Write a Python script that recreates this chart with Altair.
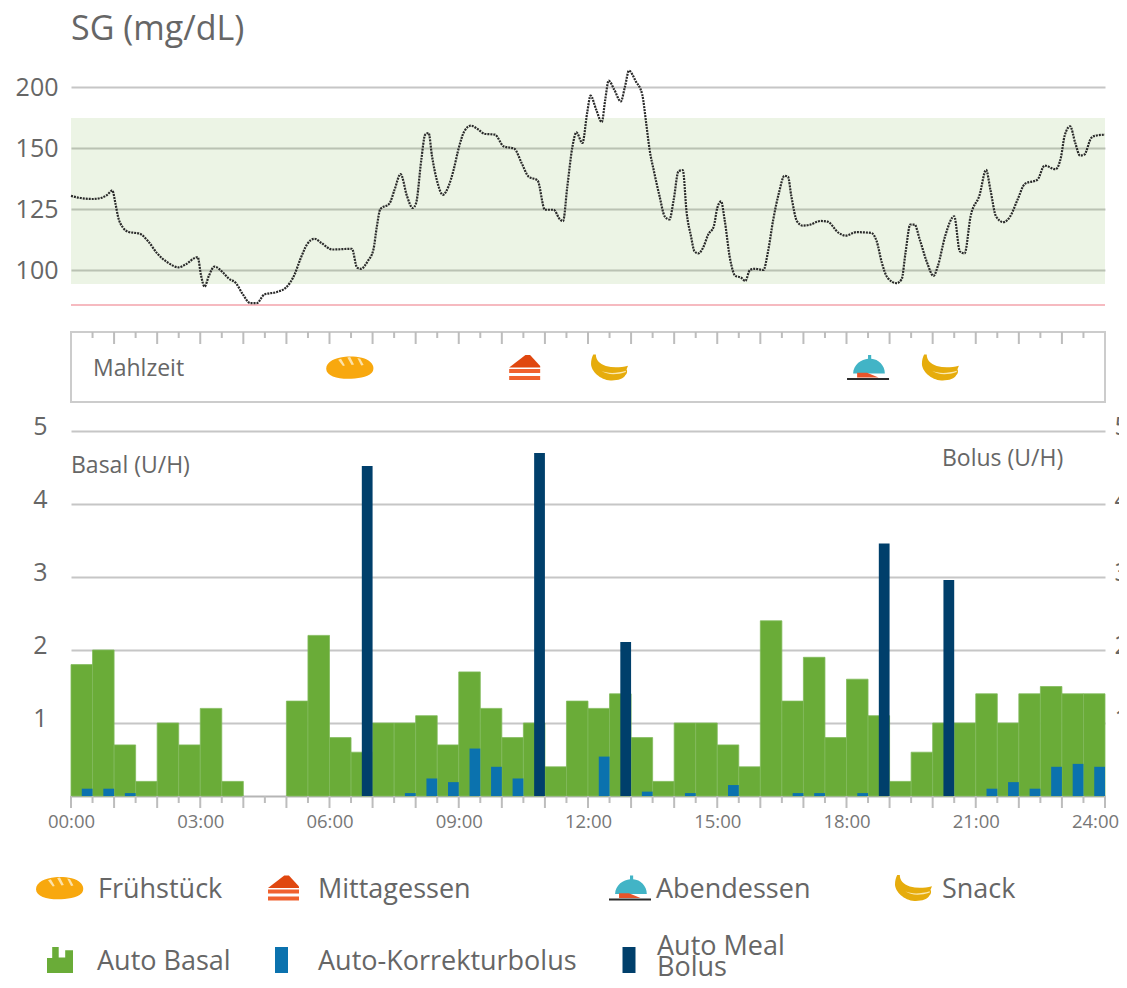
import altair as alt
import pandas as pd

FONT = "Open Sans"
TXT = "#666666"
GRID = "#c6c6c6"

# ---- Sensor glucose (hour, mg/dL)
sg_hours = [0,.22,.51,.71,.84,.96,1.03,1.09,1.21,1.34,1.59,1.79,2.0,2.25,2.5,2.66,2.94,3.02,3.1,3.2,3.33,3.53,3.66,3.82,3.99,4.16,4.31,4.49,4.78,4.99,5.19,5.32,5.48,5.65,5.81,6.06,6.52,6.64,6.73,6.89,7.02,7.1,7.18,7.39,7.51,7.65,7.8,7.93,8.01,8.13,8.22,8.3,8.38,8.51,8.63,8.76,8.88,9.0,9.13,9.28,9.46,9.59,9.84,10.04,10.29,10.46,10.62,10.83,11.0,11.2,
            11.35,11.42,11.52,11.64,11.73,11.87,11.98,12.06,12.19,12.32,12.4,12.48,12.61,12.76,12.86,12.95,13.11,13.26,13.35,13.43,13.53,13.66,13.78,13.89,13.99,14.1,14.2,14.29,14.39,14.47,14.56,14.67,14.79,14.92,15,15.09,15.17,15.3,15.42,15.55,15.65,15.76,15.88,16.07,16.18,16.3,16.43,16.56,16.64,16.72,16.85,16.98,17.14,17.4,17.56,17.82,17.98,18.23,18.57,18.7,18.82,18.95,19.16,19.28,19.37,19.48,19.58,19.7,19.87,20.02,20.12,20.29,20.5,20.63,20.74,20.88,21.09,21.24,21.34,21.47,21.64,21.8,21.97,22.14,22.43,22.6,22.85,22.98,23.06,23.19,23.31,23.42,23.52,23.68,23.78,24]
sg_values = [130.4,129.5,129.1,129.6,130.8,132.6,127.4,122,117.3,115.6,114.9,111.8,106.8,103,101.1,102.3,105.3,97.6,93.2,97.6,101.4,98.9,96.5,94.8,90,86.4,86.4,90,91,92.8,98.2,104.3,110.5,112.8,111.1,108.4,108.7,101,100.5,103.7,108.4,117.9,125,127.2,132.9,139.3,130.2,125.4,127.4,145.1,160.9,162.3,146.6,135.6,130.8,134.2,141,150,163.7,168.3,165,161.7,160.9,151.4,149.7,143.8,138.3,136.7,124.7,124.7,
             120.7,120,134.2,151.4,162.8,154.1,178.7,192.9,181.4,171.3,189.6,205.2,197.8,188.2,200.5,213.4,204.6,193.7,170.5,149.3,140.5,130.3,122,120.7,128.9,140.5,140.9,123.4,113.9,107.7,106.8,109.1,114.5,117.9,125.4,128.1,120.7,104.3,97.6,96.9,95.5,100,100.5,100,107.7,120.7,131.5,138.6,138.3,130.2,120,118.2,118.5,120.1,119.8,115.2,114.1,115.5,115.2,111.8,103,96.9,94.6,96.2,107.1,118.6,118.6,112.5,103,97.6,101.6,113.9,122,107.7,106.8,122,130.8,141,132.9,122,119.6,122,128.8,135.3,137,142.8,141.3,146.4,159.6,167.8,154.1,146.9,147.3,158.2,160.1,160.9]
sg_ticks = [100, 125, 150, 200]
target_low, target_high = 94.3, 174.6
low_limit = 85.7

# ---- Insulin
basal_values = [1.8,2.0,0.7,0.2,1.0,0.7,1.2,0.2,0,0,1.3,2.2,0.8,0.6,1.0,1.0,1.1,0.7,1.7,1.2,0.8,1.0,0.4,1.3,1.2,1.4,0.8,0.2,1.0,1.0,0.7,0.4,2.4,1.3,1.9,0.8,1.6,1.1,0.2,0.6,1.0,1.0,1.4,1.0,1.4,1.5,1.4,1.4]
corr_hours = [0.25,0.75,1.25,7.75,8.25,8.75,9.25,9.75,10.25,12.25,13.25,14.25,15.25,16.75,17.25,18.25,21.25,21.75,22.25,22.75,23.25,23.75]
corr_values = [0.1,0.1,0.04,0.04,0.24,0.19,0.65,0.4,0.24,0.54,0.06,0.04,0.15,0.04,0.04,0.04,0.1,0.19,0.1,0.4,0.44,0.4]
meal_bolus_hours = [6.75,10.75,12.75,18.75,20.25]
meal_bolus_values = [4.52,4.7,2.11,3.46,2.96]
insulin_ticks = [1,2,3,4,5]

# ---- Meals
bread_hours = [6.48]
cake_hours = [10.53]
banana_hours = [12.5, 20.18]
cloche_hours = [18.5]
hour_ticks = list(range(0, 25))
half_ticks = [h + 0.5 for h in range(0, 24)]
label_ticks = list(range(0, 25, 3))

# ---- Icon drawings, as (path, colour)
BREAD = ("M-1,0.05 C-1,-0.25 -0.6,-0.42 -0.2,-0.45 C0.2,-0.48 0.65,-0.42 0.85,-0.22 C1,-0.08 1,0.1 0.9,0.22 C0.7,0.42 0.3,0.47 -0.1,0.47 C-0.55,0.47 -1,0.35 -1,0.05 Z", "#f8a80e")
BREAD_CUT = ("M-0.5,-0.32 L-0.38,-0.36 L-0.22,-0.08 L-0.3,-0.06 Z M-0.12,-0.42 L0,-0.44 L0.16,-0.12 L0.06,-0.1 Z M0.3,-0.4 L0.42,-0.36 L0.56,-0.1 L0.46,-0.08 Z", "#fde2a8")
CAKE_TOP = ("M-1,0 L0.05,-0.8 L0.35,-0.8 L1,-0.1 L1,0 Z", "#e0470f")
CAKE_STR = ("M-1,0.1 H1 V0.35 H-1 Z M-1,0.55 H1 V0.8 H-1 Z", "#f0612e")
DOME = ("M-0.71,0.28 C-0.7,-0.15 -0.3,-0.4 0,-0.42 L0,-0.6 L0.15,-0.6 L0.15,-0.42 C0.5,-0.4 0.8,-0.1 0.8,0.28 Z", "#42b4c6")
PLATE = ("M-0.52,0.25 L-0.05,0.25 L0.5,0.48 L-0.52,0.48 Z", "#e8542a")
BAR = ("M-1,0.5 H1 V0.6 H-1 Z", "#2b2b2b")
BANANA = ("M-0.88,-0.7 L-0.74,-0.7 C-0.74,-0.4 -0.55,-0.2 -0.2,-0.08 C0.2,0.02 0.6,0 1,-0.1 L0.92,0.1 C0.98,0.2 0.95,0.35 0.85,0.42 C0.8,0.6 0.4,0.72 0.05,0.7 C-0.5,0.68 -1,0.2 -1,-0.2 C-1,-0.4 -0.95,-0.55 -0.88,-0.7 Z", "#e6ac0c")
BANANA_GAP = ("M-0.45,0.18 C-0.1,0.34 0.4,0.32 0.88,0.18 L0.88,0.24 C0.4,0.4 -0.1,0.42 -0.45,0.18 Z", "#fbe9b0")
GREEN = ("M-1,1 V-0.15 H-0.6 V-1 H-0.1 V-0.2 H0.4 V-0.75 H1 V1 Z", "#6aac38")
BLUE = ("M-0.5,-1 H0.5 V1 H-0.5 Z", "#0b72ae")
NAVY = ("M-0.5,-1 H0.5 V1 H-0.5 Z", "#003f6b")

ICONS = {
    "bread": (48, [BREAD, BREAD_CUT]),
    "cake": (31, [CAKE_TOP, CAKE_STR]),
    "cloche": (42, [DOME, PLATE, BAR]),
    "banana": (37, [BANANA, BANANA_GAP]),
    "green": (26, [GREEN]),
    "blue": (26, [BLUE]),
    "navy": (26, [NAVY]),
}

W = 1034
xscale = alt.Scale(domain=[0, 24], range=[0, W], nice=False, zero=False)
NOX = alt.X("t:Q", scale=xscale, axis=None)


def placed_icon(name, x_px, y_px):
    w, parts = ICONS[name]
    return [
        alt.Chart(pd.DataFrame({"k": [name]})).mark_point(shape=p, filled=True, fill=c, size=w * w, opacity=1, strokeWidth=0)
        .encode(x=alt.value(x_px), y=alt.value(y_px))
        for p, c in parts
    ]


def timed_icon(name, hours, y_px):
    w, parts = ICONS[name]
    return [
        alt.Chart(pd.DataFrame({"t": hours})).mark_point(shape=p, filled=True, fill=c, size=w * w, opacity=1, strokeWidth=0)
        .encode(x=NOX, y=alt.value(y_px))
        for p, c in parts
    ]


def label(text, x_px, y_px, size):
    return alt.Chart(pd.DataFrame({"s": [text]})).mark_text(align="left", baseline="middle", font=FONT, fontSize=size, color=TXT).encode(
        x=alt.value(x_px), y=alt.value(y_px), text="s:N")


# ---- SG panel
sg_df = pd.DataFrame({"t": sg_hours, "v": sg_values})
sg_scale = alt.Scale(domain=[85, 100, 125, 150, 200], range=[219.6, 183, 122, 61, 0], clamp=False, nice=False, zero=False)
sg_y = alt.Y("v:Q", scale=sg_scale, title=None,
             axis=alt.Axis(values=sg_ticks, grid=True, gridColor=GRID, gridWidth=2, ticks=False, domain=False,
                           labelFont=FONT, labelFontSize=25, labelColor=TXT, labelPadding=13))
sg_line = alt.Chart(sg_df).mark_line(color="#2a2a2a", strokeWidth=2.2, strokeDash=[2, 1], interpolate="monotone").encode(x=NOX, y=sg_y)
band = alt.Chart(pd.DataFrame({"a": [target_low], "b": [target_high]})).mark_rect(fill="#6aac38", opacity=0.13).encode(
    x=alt.value(0), x2=alt.value(W), y=alt.Y("a:Q", scale=sg_scale, axis=None), y2="b:Q")
red = alt.Chart(pd.DataFrame({"a": [low_limit]})).mark_rule(color="#f3a3ab", strokeWidth=1.5).encode(
    x=alt.value(0), x2=alt.value(W), y=alt.Y("a:Q", scale=sg_scale, axis=None))
sg_panel = alt.layer(band, red, sg_line).resolve_axis(y="independent", x="independent").properties(
    width=W, height=216,
    title=alt.TitleParams("SG (mg/dL)", anchor="start", font=FONT, fontSize=34, fontWeight="normal", color=TXT, offset=19, frame="group"),
)

# ---- Meal strip
tick_color = "#bdbdbd"
strip_h = alt.Chart(pd.DataFrame({"t": hour_ticks[1:-1]})).mark_rule(color=tick_color, strokeWidth=2).encode(x=NOX, y=alt.value(0), y2=alt.value(12))
strip_s = alt.Chart(pd.DataFrame({"t": half_ticks})).mark_rule(color=tick_color, strokeWidth=2).encode(x=NOX, y=alt.value(0), y2=alt.value(6))
strip_layers = [strip_h, strip_s, label("Mahlzeit", 22, 37, 23)]
strip_layers += timed_icon("bread", bread_hours, 35.5) + timed_icon("cake", cake_hours, 35.5)
strip_layers += timed_icon("banana", banana_hours, 35.5) + timed_icon("cloche", cloche_hours, 35.5)
strip_panel = alt.layer(*strip_layers).properties(width=W, height=70, view=alt.ViewConfig(stroke="#cccccc", strokeWidth=2))

# ---- Insulin panel
basal_df = pd.DataFrame({"t": [i * 0.5 for i in range(48)], "t2": [i * 0.5 + 0.5 for i in range(48)], "v": basal_values, "z": [0] * 48})
basal_df = basal_df[basal_df["v"] > 0]
corr_df = pd.DataFrame({"t": corr_hours, "t2": [h + 0.25 for h in corr_hours], "v": corr_values, "z": [0] * len(corr_hours)})
meal_df = pd.DataFrame({"t": meal_bolus_hours, "t2": [h + 0.25 for h in meal_bolus_hours], "v": meal_bolus_values, "z": [0] * len(meal_bolus_hours)})
y5 = alt.Scale(domain=[0, 5], nice=False)
label_expr = "(datum.value < 10 ? '0' : '') + datum.value + ':00'"
axis_common = dict(values=insulin_ticks, ticks=False, domain=False, labelFont=FONT, labelFontSize=25, labelColor=TXT, labelOffset=-5, title=None)
basal = alt.Chart(basal_df).mark_rect(color="#6aac38", stroke="#82ba5c", strokeWidth=0.8).encode(
    x=alt.X("t:Q", scale=xscale, title=None,
            axis=alt.Axis(values=label_ticks, ticks=False, labelExpr=label_expr, grid=False, domainColor="#b5b5b5", domainWidth=2,
                          labelFlush=False, labelOverlap=False, labelBound=False,
                          labelOffset=alt.expr("datum.value == 24 ? -10 : 0"),
                          labelFont=FONT, labelFontSize=18.5, labelColor="#777777", labelPadding=16)),
    x2="t2:Q",
    y=alt.Y("v:Q", scale=y5, axis=alt.Axis(grid=True, gridColor=GRID, gridWidth=2, labelPadding=24, orient="left", **axis_common)),
    y2="z:Q",
)
corr = alt.Chart(corr_df).mark_rect(color="#0b72ae").encode(
    x=NOX, x2="t2:Q",
    y=alt.Y("v:Q", scale=y5, axis=alt.Axis(grid=False, labelPadding=9, orient="right", **axis_common)),
    y2="z:Q",
)
meal = alt.Chart(meal_df).mark_rect(color="#003f6b").encode(
    x=NOX, x2="t2:Q", y=alt.Y("v:Q", scale=y5, axis=None), y2="z:Q")
bot_h = alt.Chart(pd.DataFrame({"t": hour_ticks})).mark_rule(color=tick_color, strokeWidth=2).encode(x=NOX, y=alt.value(365), y2=alt.value(377))
bot_s = alt.Chart(pd.DataFrame({"t": half_ticks})).mark_rule(color=tick_color, strokeWidth=2).encode(x=NOX, y=alt.value(365), y2=alt.value(372))
insulin_panel = alt.layer(
    basal, corr, meal, bot_h, bot_s,
    label("Basal (U/H)", 0, 35, 23), label("Bolus (U/H)", 871, 28, 23),
).resolve_scale(y="independent").resolve_axis(x="independent", y="independent").properties(width=W, height=365)

# ---- Legend panel (positions relative to panel)
legend_layers = []
legend_layers += placed_icon("bread", -11, 63) + placed_icon("cake", 212.5, 63) + placed_icon("cloche", 559, 63) + placed_icon("banana", 842.5, 63)
legend_layers += placed_icon("green", -11, 135) + placed_icon("blue", 210.5, 135) + placed_icon("navy", 558, 135)
legend_layers += [
    label("Frühstück", 27, 64.5, 27), label("Mittagessen", 247, 64.5, 27), label("Abendessen", 585, 64.5, 27), label("Snack", 871, 64.5, 27),
    label("Auto Basal", 26, 136.5, 27), label("Auto-Korrekturbolus", 247, 136.5, 27),
    label("Auto Meal", 586, 122, 27), label("Bolus", 586, 143, 27),
]
legend_panel = alt.layer(*legend_layers).properties(width=W, height=155)

chart = alt.vconcat(sg_panel, strip_panel, insulin_panel, legend_panel, spacing=29, bounds="flush").properties(
    padding={"left": 7, "top": 5, "right": -10, "bottom": -4}
).configure_view(stroke=None)

chart.save("out.html", embed_options={"renderer": "svg", "actions": False})
